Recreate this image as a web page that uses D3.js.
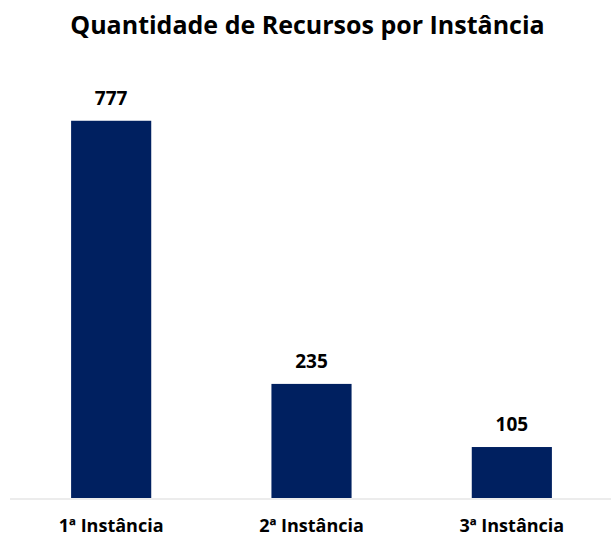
<!DOCTYPE html>
<html>
<head>
<meta charset="utf-8">
<script src="https://cdn.jsdelivr.net/npm/d3@7"></script>
<style>
  html, body { margin: 0; padding: 0; background: #fff; }
  svg { display: block; font-family: "Open Sans", "Noto Sans", sans-serif; }
</style>
</head>
<body>
<svg id="chart" width="611" height="536"></svg>
<script>
// data
const categories = ['1ª Instância', '2ª Instância', '3ª Instância'];
const values = [777, 235, 105];
const title = 'Quantidade de Recursos por Instância';

const W = 611, H = 536;
const baseY = 498;
const barColor = '#002060';

const svg = d3.select('#chart');

const x = d3.scaleBand()
  .domain(categories)
  .range([11, 612])
  .paddingInner(0.6)
  .paddingOuter(0.3);

const y = d3.scaleLinear()
  .domain([0, 800])
  .range([baseY, baseY - 800 * 0.4855]);

// title
svg.append('text')
  .attr('x', W / 2 + 2)
  .attr('y', 34)
  .attr('text-anchor', 'middle')
  .attr('font-size', 25)
  .attr('font-weight', 700)
  .attr('fill', '#000')
  .text(title);

// bars
svg.append('g').selectAll('rect')
  .data(values)
  .join('rect')
  .attr('x', (d, i) => x(categories[i]))
  .attr('y', d => y(d))
  .attr('width', x.bandwidth())
  .attr('height', d => baseY - y(d))
  .attr('fill', barColor);

// value labels
svg.append('g').selectAll('text')
  .data(values)
  .join('text')
  .attr('x', (d, i) => x(categories[i]) + x.bandwidth() / 2)
  .attr('y', d => y(d) - 16)
  .attr('text-anchor', 'middle')
  .attr('font-size', 19)
  .attr('font-weight', 700)
  .attr('fill', '#000')
  .text(d => d);

// x axis
const axis = svg.append('g')
  .attr('transform', `translate(0,${baseY + 1})`)
  .call(d3.axisBottom(x).tickSize(0).tickPadding(20));
axis.select('.domain')
  .attr('d', `M10,0H611`)
  .attr('stroke', '#d9d9d9')
  .attr('stroke-width', 1);
axis.selectAll('text')
  .attr('font-family', '"Open Sans", "Noto Sans", sans-serif')
  .attr('font-size', 18)
  .attr('font-weight', 700)
  .attr('fill', '#000');
</script>
</body>
</html>
